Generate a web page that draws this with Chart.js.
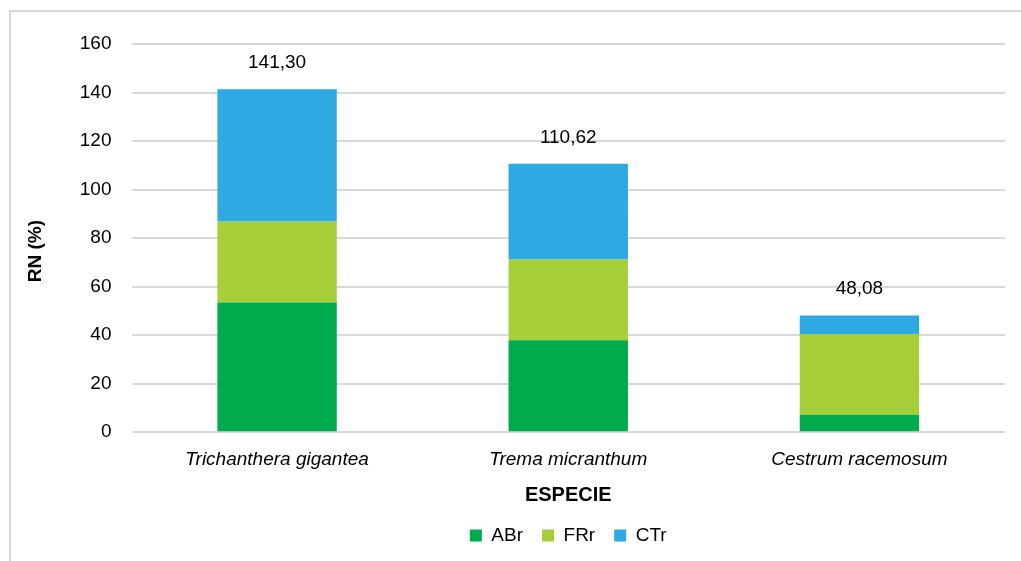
<!DOCTYPE html>
<html>
<head>
<meta charset="utf-8">
<script src="https://cdn.jsdelivr.net/npm/chart.js@4/dist/chart.umd.min.js"></script>
<style>
  html, body { margin: 0; padding: 0; background: #fff; overflow: hidden; }
  #wrap { position: relative; width: 1021px; height: 561px; }
  #marco { position: absolute; left: 9px; top: 10px; width: 1100px; height: 600px; border: 2px solid #d9d9d9; pointer-events: none; }
</style>
</head>
<body>
<div id="wrap">
  <canvas id="grafico" width="1021" height="561"></canvas>
  <div id="marco"></div>
</div>
<script>
// Datos
const especies = ["Trichanthera gigantea", "Trema micranthum", "Cestrum racemosum"];
const abr = [53.45, 37.9, 7.15];
const frr = [33.35, 33.3, 33.35];
const ctr = [54.5, 39.42, 7.58];
const totales = [141.30, 110.62, 48.08];
const ticksY = [0, 20, 40, 60, 80, 100, 120, 140, 160];

const fuente = "'Liberation Sans', Arial, sans-serif";

// Etiqueta del total encima de cada columna + título del eje Y algo más abajo
const extras = {
  id: "extras",
  afterLayout(chart) {
    // centrar la leyenda sobre el área del gráfico, como en Excel
    const lg = chart.legend;
    const desp = (chart.chartArea.left + chart.chartArea.right) / 2 - (lg.left + lg.right) / 2;
    lg.left += desp;
    lg.right += desp;
  },
  afterDatasetsDraw(chart) {
    const { ctx, scales, chartArea } = chart;
    const ultimo = chart.getDatasetMeta(chart.data.datasets.length - 1);
    ctx.save();
    ctx.font = "19px " + fuente;
    ctx.fillStyle = "#000";
    ctx.textAlign = "center";
    ctx.textBaseline = "bottom";
    totales.forEach((t, i) => {
      const x = ultimo.data[i].x;
      const y = scales.y.getPixelForValue(t);
      ctx.fillText(t.toFixed(2).replace(".", ","), x, y - 17);
    });
    ctx.font = "bold 19px " + fuente;
    ctx.textBaseline = "middle";
    ctx.translate(scales.y.left + 15, (chartArea.top + chartArea.bottom) / 2 + 13);
    ctx.rotate(-Math.PI / 2);
    ctx.fillText("RN (%)", 0, 0);
    ctx.restore();
  }
};

new Chart(document.getElementById("grafico"), {
  type: "bar",
  data: {
    labels: especies,
    datasets: [
      { label: "ABr", data: abr, backgroundColor: "#00AB4E", borderWidth: 0 },
      { label: "FRr", data: frr, backgroundColor: "#A6CE39", borderWidth: 0 },
      { label: "CTr", data: ctr, backgroundColor: "#2EA9E1", borderWidth: 0 }
    ]
  },
  options: {
    responsive: false,
    animation: false,
    layout: { padding: { left: 21, right: 16, top: 44, bottom: 6 } },
    datasets: { bar: { barPercentage: 0.82, categoryPercentage: 0.5 } },
    plugins: {
      legend: {
        position: "bottom",
        labels: { boxWidth: 12, boxHeight: 12, padding: 19, color: "#000", font: { family: fuente, size: 19 } }
      },
      tooltip: { enabled: false }
    },
    scales: {
      x: {
        stacked: true,
        grid: { display: false },
        border: { display: false },
        ticks: { color: "#000", font: { family: fuente, size: 19, style: "italic" }, padding: 8 },
        title: { display: true, text: "ESPECIE", color: "#000", font: { family: fuente, size: 20, weight: "bold" }, padding: { top: 4, bottom: 0 } }
      },
      y: {
        stacked: true,
        min: 0,
        max: 160,
        afterBuildTicks: s => { s.ticks = ticksY.map(v => ({ value: v })); },
        grid: { color: "#d9d9d9", lineWidth: 2, drawTicks: false },
        border: { display: false },
        ticks: { color: "#000", font: { family: fuente, size: 19 }, padding: 20 },
        title: { display: true, text: "RN (%)", color: "rgba(0,0,0,0)", font: { family: fuente, size: 19, weight: "bold" }, padding: { bottom: 12 } }
      }
    }
  },
  plugins: [extras]
});
</script>
</body>
</html>
